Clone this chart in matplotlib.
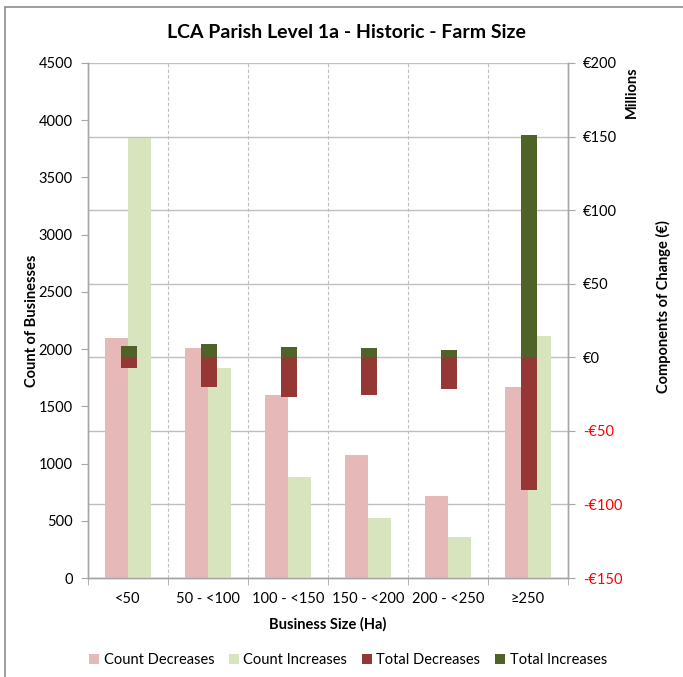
import matplotlib
matplotlib.use("Agg")
import matplotlib.pyplot as plt
import numpy as np

plt.rcParams['font.family'] = ['Lato', 'DejaVu Sans']

# data
categories = ["<50", "50 - <100", "100 - <150", "150 - <200", "200 - <250", "\u2265250"]
count_decreases = [2095, 2010, 1600, 1072, 716, 1672]
count_increases = [3842, 1838, 885, 527, 356, 2115]
total_decreases = [-7.5, -20.4, -27.2, -25.8, -21.3, -90.2]   # millions EUR
total_increases = [7.7, 9.3, 7.0, 6.1, 4.8, 151.3]
left_ticks = list(range(0, 5000, 500))
right_ticks = list(range(-150, 250, 50))

c_pink = '#E6B9B8'
c_lgreen = '#D7E4BD'
c_dred = '#953735'
c_dgreen = '#4F6228'
grid_c = '#BFBFBF'
axis_c = '#A6A6A6'

W, H = 683, 677
fig = plt.figure(figsize=(W / 100, H / 100), dpi=100)
fig.patch.set_facecolor('white')

# chart border (top and left visible, rest cropped)
fig.add_artist(plt.Rectangle((5 / W, -0.1), 1.2, 1 - 7 / H + 0.1, transform=fig.transFigure,
                             fill=False, edgecolor='#8C8C8C', lw=1.2))

ax = fig.add_axes([88 / W, 99 / H, 480 / W, 515 / H])
ax2 = ax.twinx()

x = np.arange(len(categories))
bw = 0.2875
ax.bar(x - bw / 2, count_decreases, bw, color=c_pink, label='Count Decreases', zorder=3)
ax.bar(x + bw / 2, count_increases, bw, color=c_lgreen, label='Count Increases', zorder=3)

ax2.bar(x + 0.01, total_decreases, 0.2, color=c_dred, label='Total Decreases', zorder=3)
ax2.bar(x + 0.01, total_increases, 0.2, bottom=0, color=c_dgreen, label='Total Increases', zorder=3)

ax.set_xlim(-0.5, len(categories) - 0.5)
ax.set_ylim(0, 4500)
ax2.set_ylim(-150, 200)

# horizontal gridlines follow the secondary axis, drawn behind bars
for v in right_ticks:
    yv = (v + 150) / 350 * 4500
    ax.axhline(yv, color=grid_c, lw=1.0, zorder=1)

# vertical dashed gridlines at category boundaries
bounds = np.arange(-0.5, len(categories), 1.0)
for b in bounds[1:-1]:
    ax.axvline(b, color=grid_c, lw=0.8, ls=(0, (3, 2)), zorder=1)

ax.set_xticks(x)
ax.set_xticklabels(categories, fontsize=10.5)
ax.set_xticks(bounds, minor=True)
ax.tick_params(axis='x', which='major', length=0, pad=10)
ax.tick_params(axis='x', which='minor', length=5, color=axis_c, direction='out')

ax.set_yticks(left_ticks)
ax.set_yticklabels([str(t) for t in left_ticks], fontsize=10.5)
ax.tick_params(axis='y', length=5, color=axis_c, direction='out', pad=6)

ax2.set_yticks(right_ticks)
labels = []
for t in right_ticks:
    labels.append(('-\u20ac%d' % abs(t)) if t < 0 else ('\u20ac%d' % t))
ax2.set_yticklabels(labels, fontsize=10.5)
for lab, t in zip(ax2.get_yticklabels(), right_ticks):
    lab.set_color('red' if t < 0 else 'black')
ax2.tick_params(axis='y', length=5, color=axis_c, direction='out', pad=6)

for a in (ax, ax2):
    for s in a.spines.values():
        s.set_color(axis_c)
        s.set_linewidth(1.0)
ax.spines['top'].set_visible(False)
ax2.spines['top'].set_visible(False)

ax.set_xlabel('Business Size (Ha)', fontsize=10.5, fontweight='bold', labelpad=8)
ax.set_ylabel('Count of Businesses', fontsize=10.5, fontweight='bold')
ax.yaxis.set_label_coords((39 - 88) / 480, 0.5)

fig.text(663 / W, 1 - 307 / H, 'Components of Change (\u20ac)', rotation=90, fontsize=10.5,
         fontweight='bold', ha='center', va='center')
fig.text(632 / W, 1 - 92 / H, 'Millions', rotation=90, fontsize=10.5,
         fontweight='bold', ha='center', va='center')

fig.text(346 / W, 1 - 33 / H, 'LCA Parish Level 1a - Historic - Farm Size', fontsize=14,
         fontweight='bold', ha='center', va='center')

h1, l1 = ax.get_legend_handles_labels()
h2, l2 = ax2.get_legend_handles_labels()
fig.legend(h1 + h2, l1 + l2, loc='center', bbox_to_anchor=(348 / W, 1 - 660 / H), ncol=4,
           frameon=False, fontsize=10.5, handlelength=0.7, handleheight=0.7,
           handletextpad=0.3, columnspacing=1.0)

fig.savefig('out.png', dpi=100)
